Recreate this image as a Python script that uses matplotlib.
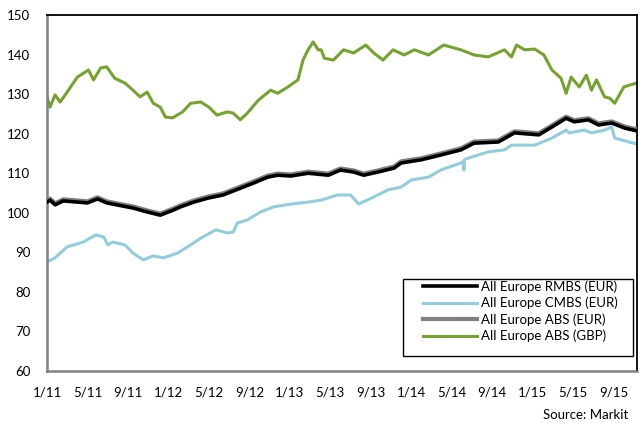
import matplotlib
matplotlib.use('Agg')
import matplotlib.pyplot as plt
from matplotlib.patches import Rectangle

plt.rcParams['font.family'] = ['Lato', 'DejaVu Sans']

# x = months since Jan 2011
tick_pos = [0, 4, 8, 12, 16, 20, 24, 28, 32, 36, 40, 44, 48, 52, 56]
tick_labels = ['1/11', '5/11', '9/11', '1/12', '5/12', '9/12', '1/13', '5/13',
               '9/13', '1/14', '5/14', '9/14', '1/15', '5/15', '9/15']

rmbs_x = [0.0, 0.3, 0.8, 1.6, 4.0, 5.0, 5.9, 8.5, 9.9, 11.2, 12.5, 13.2, 14.5,
          15.9, 17.4, 19.1, 20.4, 21.8, 22.8, 24.1, 25.8, 27.8, 29.0, 30.3,
          31.3, 32.7, 34.3, 35.0, 37.0, 38.9, 40.9, 42.2, 44.6, 46.2, 48.6,
          49.9, 51.3, 52.1, 53.5, 54.5, 55.8, 57.1, 58.3]
rmbs = [102.7, 103.2, 102.0, 103.0, 102.5, 103.5, 102.5, 101.2, 100.2, 99.4,
        100.7, 101.5, 102.7, 103.7, 104.5, 106.2, 107.5, 109.0, 109.5, 109.3,
        110.0, 109.5, 110.8, 110.3, 109.5, 110.3, 111.3, 112.6, 113.4, 114.6,
        115.9, 117.6, 117.9, 120.2, 119.7, 121.7, 123.9, 123.0, 123.5, 122.2,
        122.7, 121.4, 120.7]

abs_eur = [103.1, 103.6, 102.4, 103.4, 102.9, 103.9, 102.9, 101.6, 100.6, 99.8,
           101.1, 101.9, 103.1, 104.1, 104.9, 106.6, 107.9, 109.4, 109.9, 109.7,
           110.4, 109.9, 111.2, 110.7, 109.9, 110.7, 111.7, 113.0, 113.8, 115.0,
           116.3, 118.0, 118.3, 120.6, 120.1, 122.1, 124.3, 123.4, 123.9, 122.6,
           123.1, 121.8, 121.1]

cmbs_x = [0.0, 0.8, 1.3, 2.0, 3.6, 4.8, 5.6, 6.0, 6.5, 7.7, 8.5, 9.5, 10.5,
          11.5, 12.9, 14.2, 15.2, 16.7, 17.8, 18.4, 18.8, 19.8, 21.1, 22.4,
          24.1, 25.8, 27.1, 28.7, 30.0, 30.8, 32.3, 33.7, 35.0, 36.0, 37.7,
          38.9, 40.9, 41.15, 41.2, 41.25, 43.6, 45.2, 45.9, 48.2, 49.9, 51.3,
          51.6, 53.1, 53.8, 55.1, 55.8, 56.1, 57.5, 58.3]
cmbs = [87.6, 88.6, 89.8, 91.4, 92.6, 94.4, 93.9, 91.9, 92.6, 91.9, 89.8, 88.1,
        89.1, 88.6, 89.8, 91.9, 93.6, 95.7, 94.9, 95.1, 97.4, 98.2, 100.2, 101.5,
        102.2, 102.7, 103.2, 104.5, 104.5, 102.2, 104.0, 105.8, 106.5, 108.3,
        109.0, 110.8, 112.6, 113.0, 110.8, 113.5, 115.4, 115.9, 117.1, 117.1,
        118.9, 120.9, 120.2, 120.9, 120.2, 120.9, 121.7, 118.9, 117.9, 117.4]

gbp_x = [0.0, 0.3, 0.8, 1.3, 1.8, 3.0, 4.1, 4.6, 5.3, 5.9, 6.7, 7.7, 8.5, 9.2,
         9.9, 10.5, 11.2, 11.7, 12.4, 13.4, 14.2, 15.2, 16.0, 16.8, 17.8, 18.4,
         19.1, 19.8, 20.9, 22.1, 22.8, 23.8, 24.8, 25.3, 25.8, 26.3, 26.8, 27.1,
         27.4, 28.3, 29.3, 30.3, 31.5, 32.3, 33.2, 34.2, 35.3, 36.3, 37.7, 39.2,
         40.9, 42.2, 43.6, 45.2, 45.9, 46.4, 47.2, 48.2, 49.1, 49.9, 50.8, 51.3,
         51.8, 52.6, 53.3, 53.8, 54.3, 55.1, 55.6, 56.1, 57.0, 57.6, 58.3]
gbp = [129.3, 126.7, 129.8, 128.0, 129.8, 134.3, 136.1, 133.6, 136.6, 136.9,
       134.0, 132.8, 131.0, 129.3, 130.5, 127.7, 126.7, 124.2, 124.0, 125.5,
       127.7, 128.0, 126.7, 124.7, 125.5, 125.2, 123.5, 125.2, 128.5, 131.0,
       130.2, 131.8, 133.6, 138.6, 141.2, 143.2, 141.2, 141.2, 139.1, 138.6,
       141.2, 140.4, 142.4, 140.4, 138.6, 141.2, 139.9, 141.2, 139.9, 142.4,
       141.2, 139.9, 139.4, 141.2, 139.4, 142.4, 141.2, 141.4, 139.9, 136.1,
       134.0, 130.2, 134.3, 131.8, 134.8, 131.0, 133.6, 129.3, 129.0, 127.7,
       131.8, 132.3, 132.8]

fig = plt.figure(figsize=(6.41, 4.30), dpi=100)
ax = fig.add_axes([0.0733, 0.1372, 0.9204, 0.8279])

ax.plot(cmbs_x, cmbs, color='#92CDDC', lw=2.2, label='All Europe CMBS (EUR)', zorder=2)
ax.plot(gbp_x, gbp, color='#77A22F', lw=2.2, label='All Europe ABS (GBP)', zorder=2)
ax.plot(rmbs_x, abs_eur, color='#808080', lw=3.0, label='All Europe ABS (EUR)', zorder=3)
ax.plot(rmbs_x, rmbs, color='black', lw=2.6, label='All Europe RMBS (EUR)', zorder=4)

ax.set_xlim(0, 58.3)
ax.set_ylim(60, 150)
ax.set_yticks(range(60, 151, 10))
ax.set_xticks(tick_pos)
ax.set_xticklabels(tick_labels)
ax.tick_params(length=0, labelsize=9.5, colors='black')
ax.tick_params(axis='y', pad=12)
ax.tick_params(axis='x', pad=11)

for s in ['top', 'right']:
    ax.spines[s].set_color('black')
    ax.spines[s].set_linewidth(1.3)
for s in ['left', 'bottom']:
    ax.spines[s].set_color('#808080')
    ax.spines[s].set_linewidth(1.8)

# legend box drawn separately (Excel style, extra room on the right)
ax.add_patch(Rectangle((0.603, 0.042), 0.39, 0.216, transform=ax.transAxes,
                       facecolor='white', edgecolor='black', lw=1.0, zorder=5))
h, l = ax.get_legend_handles_labels()
order = [3, 0, 2, 1]
leg = ax.legend([h[i] for i in order], [l[i] for i in order],
                loc='upper left', bbox_to_anchor=(0.637, 0.255),
                fontsize=9.5, frameon=False, borderaxespad=0, borderpad=0,
                handlelength=4.1, handletextpad=0.3, labelspacing=0.3)
leg.set_zorder(6)

fig.text(0.98, 0.035, 'Source: Markit', ha='right', va='center', fontsize=9.5)

fig.savefig('out.png', dpi=100)
